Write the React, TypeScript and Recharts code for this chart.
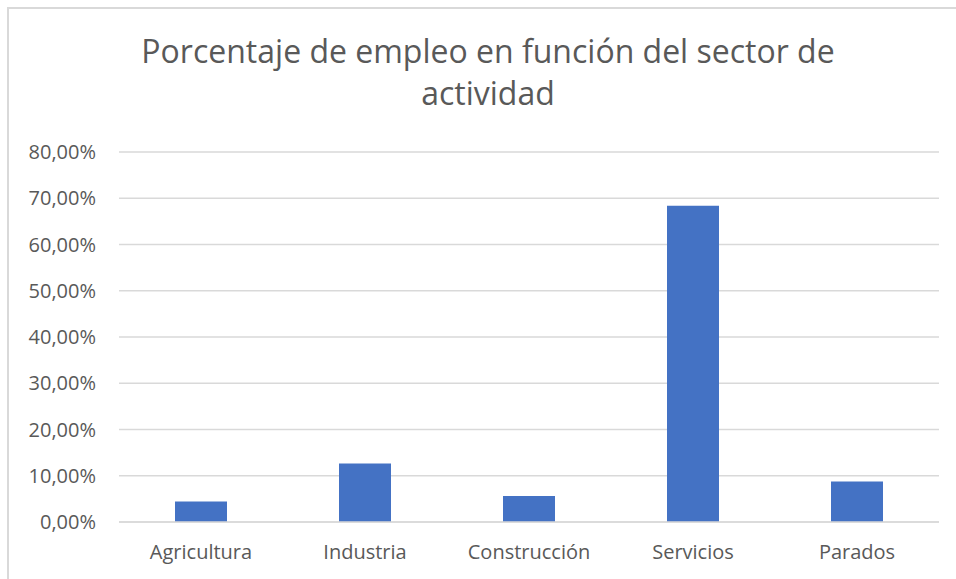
import { BarChart, Bar, XAxis, YAxis, CartesianGrid } from "recharts";

const sectors = ["Agricultura", "Industria", "Construcción", "Servicios", "Parados"];
const shares = [0.0443, 0.1265, 0.0563, 0.684, 0.0875];
const yTicks = [0, 0.1, 0.2, 0.3, 0.4, 0.5, 0.6, 0.7, 0.8];
const titleLines = ["Porcentaje de empleo en función del sector de", "actividad"];

const data = sectors.map((sector, i) => ({ sector, share: shares[i] }));

const fmtPct = (v: number) => (v * 100).toFixed(2).replace(".", ",") + "%";

const font = "'Open Sans', sans-serif";
const textColor = "#595959";
const gridColor = "#d9d9d9";

function App() {
  return (
    <div
      style={{
        position: "absolute",
        left: 0,
        top: 0,
        width: 956,
        height: 579,
        background: "#fff",
        overflow: "hidden",
        fontFamily: font,
      }}
    >
      <div
        style={{
          position: "absolute",
          left: 7,
          top: 7,
          width: 1000,
          height: 700,
          borderLeft: `2px solid ${gridColor}`,
          borderTop: `2px solid ${gridColor}`,
        }}
      />
      <svg
        width={956}
        height={130}
        style={{ position: "absolute", left: 0, top: 0 }}
      >
        {titleLines.map((line, i) => (
          <text
            key={i}
            x={488}
            y={63 + i * 42}
            textAnchor="middle"
            fontFamily={font}
            fontSize={32}
            fill={textColor}
          >
            {line}
          </text>
        ))}
      </svg>
      <div style={{ position: "absolute", left: 0, top: 0 }}>
        <BarChart
          width={956}
          height={579}
          data={data}
          margin={{ top: 152, right: 17, bottom: 27, left: 0 }}
        >
          <CartesianGrid vertical={false} stroke={gridColor} strokeWidth={1.5} />
          <XAxis
            dataKey="sector"
            height={30}
            axisLine={{ stroke: gridColor, strokeWidth: 1.5 }}
            tickLine={false}
            tickSize={0}
            tickMargin={23}
            tick={{ fill: textColor, fontSize: 20, fontFamily: font }}
            interval={0}
          />
          <YAxis
            width={119}
            domain={[0, 0.8]}
            ticks={yTicks}
            tickFormatter={fmtPct}
            axisLine={false}
            tickLine={false}
            tickSize={0}
            tickMargin={23}
            tick={{ fill: textColor, fontSize: 20, fontFamily: font }}
            interval={0}
          />
          <Bar dataKey="share" fill="#4472c4" barSize={52} isAnimationActive={false} />
        </BarChart>
      </div>
    </div>
  );
}

export default App;
